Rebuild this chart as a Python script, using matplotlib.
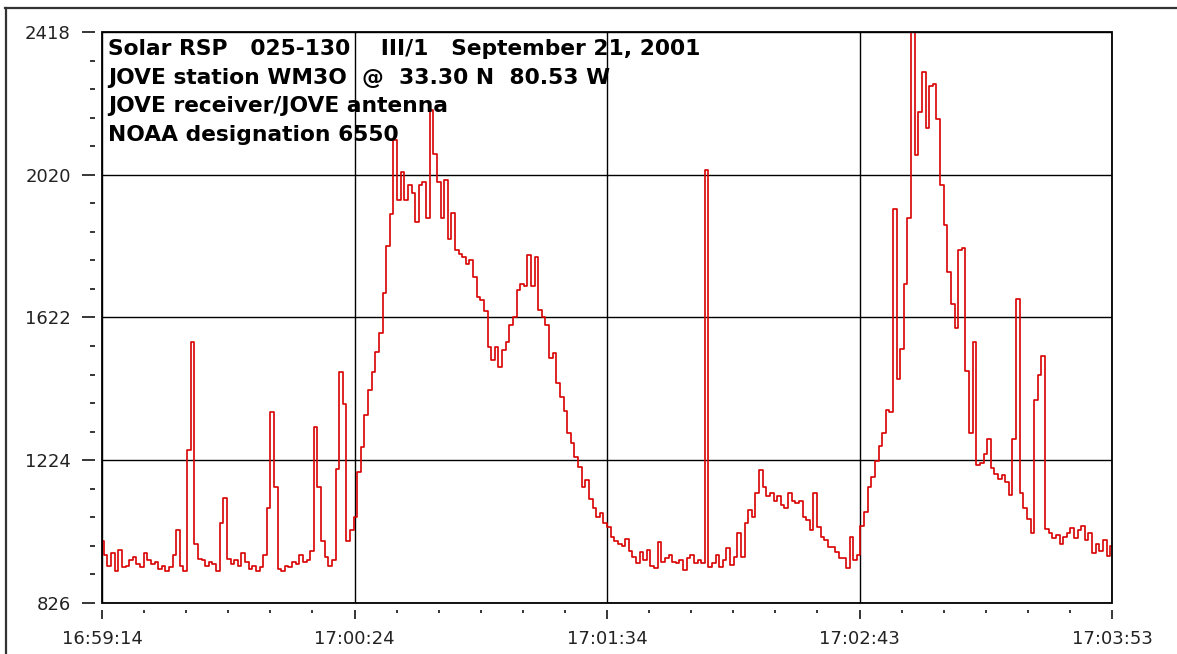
import numpy as np
import matplotlib
matplotlib.use("Agg")
import matplotlib.pyplot as plt
from matplotlib.patches import Rectangle
from matplotlib.lines import Line2D
from matplotlib.ticker import AutoMinorLocator

# Receiver output, one sample per second from 16:59:14
signal = [
    1000, 960, 930, 965, 915, 975, 925, 930, 945, 955,
    935, 925, 965, 945, 935, 940, 920, 930, 915, 925,
    960, 1030, 930, 915, 1253, 1554, 990, 950, 945, 930,
    940, 935, 915, 1050, 1119, 950, 935, 945, 930, 965,
    940, 920, 930, 915, 925, 960, 1090, 1358, 1150, 920,
    915, 930, 925, 940, 935, 960, 940, 945, 970, 1317,
    1150, 1000, 955, 930, 945, 1200, 1470, 1380, 1000, 1030,
    1066, 1190, 1260, 1350, 1420, 1470, 1525, 1580, 1690, 1820,
    1910, 2117, 1950, 2028, 1950, 1990, 1970, 1889, 1990, 2000,
    1900, 2200, 2079, 2000, 1900, 2005, 1840, 1912, 1810, 1800,
    1790, 1770, 1782, 1736, 1680, 1671, 1640, 1540, 1503, 1540,
    1485, 1530, 1555, 1600, 1624, 1698, 1715, 1710, 1796, 1710,
    1791, 1643, 1624, 1600, 1510, 1522, 1440, 1400, 1360, 1300,
    1271, 1234, 1206, 1150, 1170, 1115, 1090, 1066, 1076, 1050,
    1039, 1010, 1000, 990, 985, 1005, 970, 955, 937, 969,
    946, 974, 930, 923, 997, 940, 951, 960, 941, 937,
    946, 918, 951, 960, 937, 946, 937, 2033, 927, 937,
    960, 927, 946, 978, 932, 955, 1020, 955, 1048, 1085,
    1067, 1132, 1197, 1150, 1125, 1132, 1109, 1123, 1099, 1090,
    1132, 1110, 1104, 1109, 1067, 1057, 1030, 1132, 1039, 1011,
    1002, 983, 983, 969, 951, 951, 923, 1011, 946, 960,
    1040, 1080, 1150, 1177, 1222, 1265, 1300, 1363, 1358, 1925,
    1450, 1534, 1714, 1900, 2417, 2076, 2196, 2307, 2150, 2267,
    2272, 2176, 1990, 1880, 1750, 1660, 1594, 1810, 1815, 1473,
    1300, 1554, 1210, 1217, 1242, 1282, 1202, 1187, 1172, 1182,
    1162, 1127, 1282, 1674, 1132, 1092, 1061, 1021, 1393, 1463,
    1514, 1031, 1021, 1006, 1016, 991, 1011, 1021, 1036, 1006,
    1030, 1041, 1001, 1021, 966, 991, 971, 1001, 956, 986,
]

y_ticks = [826, 1224, 1622, 2020, 2418]
time_labels = ["16:59:14", "17:00:24", "17:01:34", "17:02:43", "17:03:53"]

header = [
    "Solar RSP   025-130    III/1   September 21, 2001",
    "JOVE station WM3O  @  33.30 N  80.53 W",
    "JOVE receiver/JOVE antenna",
    "NOAA designation 6550",
]

t = np.arange(len(signal))
duration = t[-1]

fig = plt.figure(figsize=(11.77, 6.54), dpi=100)
ax = fig.add_axes([0.0867, 0.0780, 0.8581, 0.8731])

ax.plot(t, signal, color="#d80000", lw=1.2, drawstyle="steps-mid", zorder=2)

ax.set_xlim(0, duration)
ax.set_ylim(y_ticks[0], y_ticks[-1])
ax.set_yticks(y_ticks)
ax.set_yticklabels([str(v) for v in y_ticks])
ax.set_xticks(np.linspace(0, duration, len(time_labels)))
ax.set_xticklabels(time_labels)
ax.xaxis.set_minor_locator(AutoMinorLocator(6))
ax.yaxis.set_minor_locator(AutoMinorLocator(5))

ax.grid(True, which="major", color="black", lw=1.0, zorder=1)

# ticks float a little away from the frame
for side in ["left", "bottom"]:
    ax.spines[side].set_position(("outward", 5))
    ax.spines[side].set_visible(False)
for side in ["top", "right"]:
    ax.spines[side].set_visible(False)
ax.add_patch(Rectangle((0, 0), 1, 1, transform=ax.transAxes, fill=False,
                       ec="black", lw=1.3, clip_on=False, zorder=3))

ax.tick_params(axis="y", which="major", length=9.5, width=1.1, pad=8,
               labelsize=13, labelcolor="#222222")
ax.tick_params(axis="y", which="minor", length=3.6, width=1.1)
ax.tick_params(axis="x", which="major", length=6.5, width=1.1, pad=8,
               labelsize=13, labelcolor="#222222")
ax.tick_params(axis="x", which="minor", length=2.5, width=1.1)

for i, line in enumerate(header):
    ax.text(0.006, 0.9597 - i * 0.0502, line, transform=ax.transAxes,
            fontsize=15.7, fontweight="bold", family="DejaVu Sans",
            color="black", va="baseline", ha="left", zorder=4)

# outer border on top and left
fig.add_artist(Line2D([5 / 1177, 1], [1 - 8 / 654, 1 - 8 / 654],
                      transform=fig.transFigure, color="#333333", lw=1.6))
fig.add_artist(Line2D([6 / 1177, 6 / 1177], [0, 1 - 8 / 654],
                      transform=fig.transFigure, color="#333333", lw=1.6))

fig.savefig("out.png", dpi=100, facecolor="white")
